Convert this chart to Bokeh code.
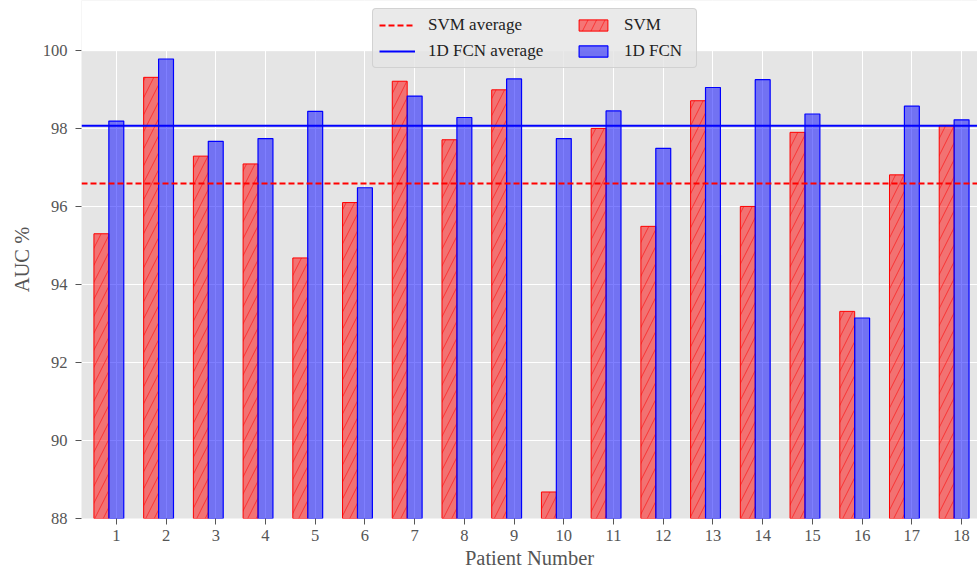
from bokeh.plotting import figure
from bokeh.models import Range1d, Legend, LegendItem, FixedTicker, BoxAnnotation
from bokeh.embed import file_html
from bokeh.resources import INLINE

patients = list(range(1, 19))
svm = [95.30, 99.31, 97.29, 97.09, 94.68, 96.10, 99.21, 97.71, 98.99,
       88.68, 98.00, 95.49, 98.71, 96.00, 97.90, 93.31, 96.81, 98.08]
fcn = [98.19, 99.78, 97.67, 97.74, 98.44, 96.48, 98.83, 98.28, 99.27,
       97.74, 98.45, 97.49, 99.05, 99.25, 98.37, 93.14, 98.57, 98.22]
svm_avg = 96.59
fcn_avg = 98.07
y_ticks = [88, 90, 92, 94, 96, 98, 100]

X_START, X_END = 0.3, 18.32
Y_MIN, Y_MAX = 88, 100
Y_VIEW_TOP = 101.28   # extra room above the axes so the legend can overlap its top edge
BAR_W = 0.3
FONT = "Liberation Serif"

p = figure(width=977, height=572, output_backend="svg", toolbar_location=None,
           x_range=Range1d(X_START, X_END), y_range=Range1d(Y_MIN, Y_VIEW_TOP),
           min_border_left=81, min_border_right=0, min_border_top=0, min_border_bottom=54)

p.background_fill_color = "#E5E5E5"
p.border_fill_color = "white"
p.outline_line_color = None
p.grid.grid_line_color = "white"
p.grid.grid_line_width = 1

svm_x = [x - BAR_W for x in patients]
r_svm = p.vbar(x=svm_x, top=svm, bottom=0, width=BAR_W,
               fill_color="red", fill_alpha=0.5, line_color="red", line_width=1,
               hatch_pattern="/", hatch_color="red", hatch_alpha=0.55,
               hatch_scale=17, hatch_weight=1)
r_fcn = p.vbar(x=patients, top=fcn, bottom=0, width=BAR_W,
               fill_color="blue", fill_alpha=0.5, line_color="blue", line_width=1.2)

r_svm_avg = p.line(x=[X_START, X_END], y=[svm_avg, svm_avg], line_color="red",
                   line_width=2, line_dash="6 3")
r_fcn_avg = p.line(x=[X_START, X_END], y=[fcn_avg, fcn_avg], line_color="blue",
                   line_width=2)

# white area above the axes' top limit
p.add_layout(BoxAnnotation(bottom=Y_MAX, fill_color="white", fill_alpha=1.0,
                           line_color="white", line_width=2))

p.xaxis.ticker = FixedTicker(ticks=patients)
p.yaxis.ticker = FixedTicker(ticks=y_ticks)
for ax in (p.xaxis[0], p.yaxis[0]):
    ax.axis_line_color = None
    ax.major_tick_line_color = "#555555"
    ax.major_tick_out = 6
    ax.major_tick_in = 0
    ax.minor_tick_line_color = None
    ax.major_label_text_font = FONT
    ax.major_label_text_font_size = "16.5px"
    ax.major_label_text_color = "#555555"
    ax.axis_label_text_font = FONT
    ax.axis_label_text_font_size = "20.5px"
    ax.axis_label_text_color = "#555555"
    ax.axis_label_text_font_style = "normal"
p.xaxis.axis_label = "Patient Number"
p.yaxis.axis_label = "AUC %"
p.xaxis.major_label_standoff = 5
p.xaxis.axis_label_standoff = 3
p.yaxis.major_label_standoff = 8
p.yaxis.axis_label_standoff = 7


def style_legend(lg, box):
    lg.label_text_font = FONT
    lg.label_text_font_size = "17px"
    lg.label_text_color = "#222222"
    lg.glyph_width = 36
    lg.glyph_height = 14
    lg.label_height = 20
    lg.spacing = 6
    lg.padding = 6
    lg.margin = 0
    lg.label_standoff = 13
    if box:
        lg.background_fill_color = "#E5E5E5"
        lg.background_fill_alpha = 0.8
        lg.border_line_color = "#CCCCCC"
        lg.border_line_alpha = 0.8
        lg.border_radius = 4
    else:
        lg.background_fill_alpha = 0.0
        lg.border_line_color = None


# first legend column (carries the legend box)
legend_a = Legend(items=[
    LegendItem(label="SVM average", renderers=[r_svm_avg]),
    LegendItem(label="1D FCN average", renderers=[r_fcn_avg]),
], location=(291, 450), label_width=262)
style_legend(legend_a, True)
p.add_layout(legend_a, "center")

# second legend column
legend_b = Legend(items=[
    LegendItem(label="SVM", renderers=[r_svm]),
    LegendItem(label="1D FCN", renderers=[r_fcn]),
], location=(494, 457))
style_legend(legend_b, False)
p.add_layout(legend_b, "center")

open("out.html", "w").write(file_html(p, INLINE))
